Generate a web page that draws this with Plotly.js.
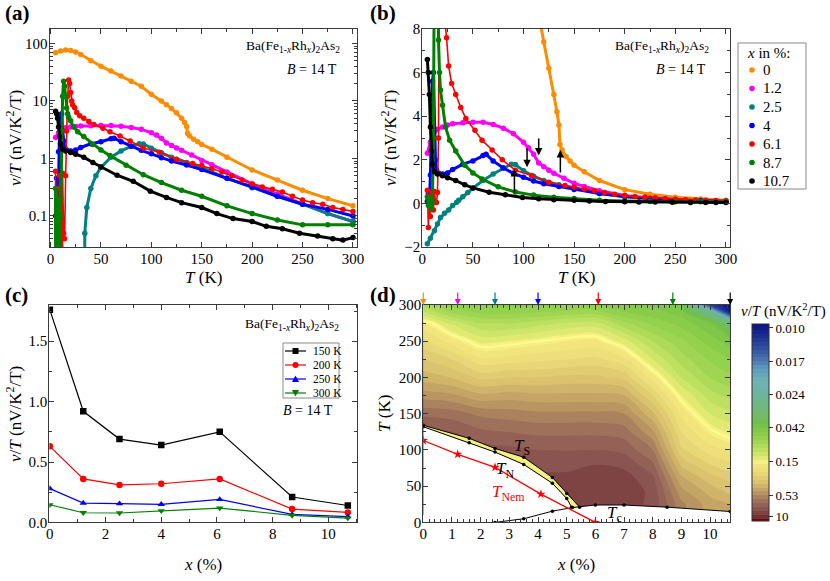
<!DOCTYPE html>
<html><head><meta charset="utf-8">
<script src="https://cdn.plot.ly/plotly-3.0.1.min.js"></script>
<style>html,body{margin:0;padding:0;background:#fff}#chart{width:830px;height:581px}</style>
</head><body><div id="chart"></div>
<script>
// ---------- Panel (a)/(b): nu/T vs T for each composition ----------
const seriesNames = ['0', '1.2', '2.5', '4', '6.1', '8.7', '10.7'];
const seriesColors = ['#ff8c00', '#ff00ff', '#008080', '#0000ff', '#ff0000', '#008000', '#000000'];

const T_x0 = [5, 10, 15, 20, 25, 30, 40, 50, 60, 70, 80, 90, 100, 110, 115, 120, 125, 130, 133, 135, 136, 138, 142, 146, 150, 160, 175, 200, 225, 250, 275, 300];
const V_x0 = [69, 74, 77, 75, 71, 64, 50, 40, 33, 27, 22, 18, 13, 10, 8.6, 7.4, 6.2, 5.0, 4.2, 3.6, 2.7, 2.45, 2.15, 1.95, 1.75, 1.45, 1.05, 0.63, 0.42, 0.28, 0.2, 0.15];

const T_x12 = [5, 8, 10, 12, 15, 20, 25, 30, 40, 50, 60, 70, 80, 90, 100, 105, 110, 115, 120, 125, 130, 140, 150, 160, 175, 200, 225, 250, 275, 300];
const V_x12 = [2.3, 2.8, 3.2, 3.3, 3.4, 3.5, 3.6, 3.65, 3.7, 3.72, 3.72, 3.62, 3.45, 3.2, 2.8, 2.55, 2.25, 1.85, 1.68, 1.52, 1.38, 1.15, 0.92, 0.78, 0.58, 0.36, 0.24, 0.16, 0.11, 0.08];

const T_x25 = [5, 8, 12, 15, 18, 22, 26, 30, 34, 36, 40, 45, 50, 60, 70, 80, 88, 92, 100, 110, 120, 135, 150, 175, 200, 225, 250, 275, 300];
const V_x25 = [-1.85, -1.6, -1.25, -0.95, -0.65, -0.45, -0.3, -0.1, 0.05, 0.14, 0.3, 0.5, 0.7, 1.05, 1.35, 1.62, 1.8, 1.78, 1.5, 1.25, 1.05, 0.85, 0.70, 0.45, 0.31, 0.22, 0.16, 0.11, 0.08];

const T_x4 = [5, 6, 7, 8, 9, 10, 11, 12, 13, 14, 16, 20, 25, 30, 40, 50, 60, 63, 70, 80, 90, 100, 110, 120, 135, 150, 175, 200, 225, 250, 275, 300];
const V_x4 = [0.1, 0.45, 0.05, 1.3, 3.5, 5.6, 6.0, 3.0, 2.0, 1.55, 1.4, 1.35, 1.4, 1.55, 1.8, 1.95, 2.2, 2.25, 1.95, 1.62, 1.38, 1.2, 1.03, 0.9, 0.77, 0.64, 0.45, 0.32, 0.22, 0.16, 0.13, 0.10];

const T_x61 = [5, 6, 7, 8, 9, 10, 11, 12, 13, 14, 15, 16, 17, 18, 19, 20, 21, 22, 24, 26, 29, 33, 38, 43, 52, 59, 69, 79, 92, 108, 125, 141, 150, 160, 170, 180, 190, 200, 210, 220, 230, 240, 250, 260, 270, 280, 290, 300];
const V_x61 = [0.6, -1.1, 0.3, -0.6, 0.5, 0.2, -0.3, 0.55, 0.05, 0.04, 0.5, 3, 12, 23, 20, 14, 10, 8.5, 7.6, 6.3, 5.5, 5.0, 4.4, 3.9, 3.35, 2.9, 2.45, 2.0, 1.52, 1.28, 0.97, 0.82, 0.75, 0.66, 0.58, 0.5, 0.42, 0.36, 0.32, 0.29, 0.26, 0.22, 0.19, 0.17, 0.16, 0.14, 0.13, 0.12];

const T_x87 = [5, 6, 7, 8, 9, 10, 11, 12, 13, 14, 15, 16, 17, 18, 20, 23, 27, 33, 42, 50, 59, 75, 92, 110, 130, 150, 175, 200, 225, 250, 275, 300];
const V_x87 = [0.3, -0.1, 0.04, 0.2, -0.25, 0.1, 3, 12, 22, 18, 12, 7.5, 6, 5.2, 4.5, 3.5, 2.9, 2.4, 1.75, 1.4, 1.12, 0.76, 0.52, 0.38, 0.28, 0.22, 0.15, 0.11, 0.085, 0.07, 0.07, 0.07];

const T_x107 = [5, 6, 7, 8, 9, 10, 12, 15, 20, 25, 33, 42, 50, 66, 82, 99, 115, 130, 150, 165, 181, 200, 214, 230, 247, 265, 280, 290, 300];
const V_x107 = [6.6, 6.0, 5.0, 3.5, 2.4, 1.8, 1.45, 1.35, 1.27, 1.18, 1.05, 0.85, 0.71, 0.51, 0.4, 0.27, 0.21, 0.17, 0.14, 0.11, 0.09, 0.08, 0.066, 0.06, 0.05, 0.045, 0.04, 0.038, 0.042];

const seriesT = [T_x0, T_x12, T_x25, T_x4, T_x61, T_x87, T_x107];
const seriesV = [V_x0, V_x12, V_x25, V_x4, V_x61, V_x87, V_x107];

// ---------- Panel (c): nu/T vs x at fixed T ----------
const cX = [0, 1.2, 2.5, 4, 6.1, 8.7, 10.7];
const c150 = [1.76, 0.92, 0.69, 0.64, 0.75, 0.21, 0.14];
const c200 = [0.63, 0.36, 0.31, 0.32, 0.36, 0.11, 0.083];
const c250 = [0.28, 0.16, 0.155, 0.15, 0.19, 0.066, 0.047];
const c300 = [0.146, 0.08, 0.078, 0.096, 0.119, 0.058, 0.036];
const cLabels = ['150 K', '200 K', '250 K', '300 K'];

// ---------- Panel (d): phase diagram + nu/T map ----------
const dX = [0, 1, 2, 3, 4, 5, 6, 7, 8, 9, 10, 10.7];
const dT = [10, 25, 40, 60, 80, 100, 125, 150, 175, 200, 225, 250, 275, 290, 300];
const dNuT = [
  [4.7, 4.7, 4.7, 4.7, 5.4, 6.2, 7.1, 6.2, 4.1, 0.64, 0.43, 0.40],
  [4.7, 4.7, 4.7, 4.7, 5.4, 6.2, 7.1, 6.2, 4.1, 0.64, 0.43, 0.40],
  [4.7, 4.7, 4.7, 4.7, 5.4, 6.2, 8.1, 7.1, 4.1, 0.50, 0.385, 0.34],
  [4.7, 4.7, 4.7, 4.7, 5.4, 5.4, 7.1, 6.2, 3.2, 0.415, 0.32, 0.283],
  [4.7, 4.7, 4.7, 4.7, 4.1, 4.1, 4.7, 4.1, 1.85, 0.33, 0.254, 0.227],
  [4.1, 4.1, 3.6, 3.2, 2.8, 2.7, 2.8, 2.4, 0.95, 0.262, 0.203, 0.181],
  [3.2, 2.8, 1.85, 1.6, 1.42, 1.42, 1.42, 1.25, 0.48, 0.218, 0.156, 0.134],
  [1.42, 1.25, 0.83, 0.73, 0.64, 0.64, 0.64, 0.56, 0.355, 0.181, 0.12, 0.108],
  [0.50, 0.48, 0.415, 0.43, 0.415, 0.415, 0.415, 0.40, 0.254, 0.139, 0.096, 0.086],
  [0.37, 0.34, 0.283, 0.295, 0.295, 0.307, 0.307, 0.283, 0.174, 0.104, 0.077, 0.069],
  [0.295, 0.254, 0.195, 0.203, 0.21, 0.218, 0.227, 0.195, 0.12, 0.083, 0.065, 0.058],
  [0.227, 0.174, 0.134, 0.139, 0.15, 0.162, 0.168, 0.129, 0.0895, 0.069, 0.054, 0.046],
  [0.168, 0.115, 0.090, 0.088, 0.096, 0.106, 0.11, 0.080, 0.064, 0.054, 0.043, 0.032],
  [0.105, 0.074, 0.064, 0.064, 0.066, 0.070, 0.072, 0.058, 0.052, 0.047, 0.0276, 0.010],
  [0.085, 0.062, 0.057, 0.056, 0.056, 0.058, 0.058, 0.052, 0.049, 0.044, 0.0128, 0.0094]
];
const cbTickVals = [10, 0.53, 0.15, 0.042, 0.024, 0.017, 0.010];
const cbTickText = ['10', '0.53', '0.15', '0.042', '0.024', '0.017', '0.010'];

const TS_x = [0, 1.6, 2.5, 3.5, 4.5, 5.0, 5.45];
const TS_T = [134, 116, 102, 90, 62, 40, 21];
const TN_x = [0, 1.6, 2.5, 3.5, 4.5, 5.0, 5.17];
const TN_T = [132, 110, 97, 80, 54, 33, 21];
const Tc_x = [2.5, 3.5, 4.5, 5.2, 6.0, 7.0, 8.5, 10.7];
const Tc_T = [0, 5, 15.5, 20.5, 24, 24, 21, 15];
const Tnem_x = [0, 1.2, 2.5, 4.1, 6.0];
const Tnem_T = [113, 94, 76, 39, 0];
const arrowX = [0, 1.2, 2.5, 4, 6.1, 8.7, 10.7];

// ---------- helpers ----------
const FONT = '"Liberation Serif", "Times New Roman", Times, "DejaVu Serif", serif';
const W = 830, H = 581;
const P = x => x / W;
const Q = y => 1 - y / H;
const cbPos = [0.022, 0.132, 0.30, 0.473, 0.642, 0.81, 0.98];
function level(v) {
  const L = Math.log10(v);
  const lv = cbTickVals.map(Math.log10);
  let i = 0;
  if (L >= lv[0]) i = 0;
  else if (L <= lv[lv.length - 1]) i = lv.length - 2;
  else { while (i < lv.length - 2 && L < lv[i + 1]) i++; }
  const f = cbPos[i] + (lv[i] - L) / (lv[i] - lv[i + 1]) * (cbPos[i + 1] - cbPos[i]);
  return Math.max(0, Math.min(1, f));
}
const dLevel = dNuT.map(r => r.map(level));

const traces = [];
// panel a
seriesNames.forEach((n, i) => {
  traces.push({type: 'scatter', mode: 'lines+markers', x: seriesT[i], y: seriesV[i], xaxis: 'x', yaxis: 'y',
    line: {color: seriesColors[i], width: i === 4 ? 1.6 : 3}, marker: {color: seriesColors[i], size: 5.5},
    showlegend: false, hoverinfo: 'skip'});
});
// panel b
seriesNames.forEach((n, i) => {
  traces.push({type: 'scatter', mode: 'lines+markers', x: seriesT[i], y: seriesV[i], xaxis: 'x2', yaxis: 'y2',
    line: {color: seriesColors[i], width: i === 4 ? 1.6 : 3}, marker: {color: seriesColors[i], size: 5.5},
    showlegend: false, hoverinfo: 'skip'});
});
// panel c
const cSeries = [c150, c200, c250, c300];
const cColors = ['#000000', '#ff0000', '#0000ff', '#008000'];
const cSymbols = ['square', 'circle', 'triangle-up', 'triangle-down'];
cSeries.forEach((s, i) => {
  traces.push({type: 'scatter', mode: 'lines+markers', x: cX, y: s, xaxis: 'x3', yaxis: 'y3',
    line: {color: cColors[i], width: 1.2}, marker: {color: cColors[i], size: 6.5, symbol: cSymbols[i]},
    showlegend: false, hoverinfo: 'skip'});
});
// panel d contour
const cscale = [
  [0, '#6a0a0a'], [0.02, '#763030'], [0.04, '#7e4444'], [0.06, '#8a5450'], [0.09, '#986858'], [0.12, '#aa825e'],
  [0.15, '#c09e64'], [0.20, '#dac26e'], [0.25, '#ecdc78'], [0.29, '#f4e87e'], [0.30, '#f6f084'], [0.32, '#e0ea72'],
  [0.35, '#c4e264'], [0.39, '#a6d856'], [0.43, '#8ece4a'], [0.49, '#70c046'], [0.557, '#72ba72'], [0.642, '#6cb49c'],
  [0.709, '#70b4b4'], [0.777, '#5898bc'], [0.81, '#4a7ab0'], [0.878, '#3050a0'], [0.946, '#1a2a90'], [1, '#0a1088']
];
traces.push({type: 'contour', x: dX, y: dT, z: dLevel, xaxis: 'x4', yaxis: 'y4',
  colorscale: cscale, zmin: 0, zmax: 1, autocontour: false,
  contours: {start: 0.01, end: 0.99, size: 0.02, coloring: 'fill', showlines: false},
  line: {width: 0}, hoverinfo: 'skip',
  colorbar: {x: P(751.7), xanchor: 'left', y: Q(422.5), yanchor: 'middle', len: 197 / H, lenmode: 'fraction',
    thickness: 17, thicknessmode: 'pixels', outlinewidth: 1, outlinecolor: '#333',
    tickvals: cbPos, ticktext: cbTickText, ticks: 'outside', ticklen: 4, tickcolor: '#333',
    tickfont: {family: FONT, size: 13, color: '#000'}, xpad: 0, ypad: 0}
});
// bright iso-line at nu/T = 0.15
traces.push({type: 'contour', x: dX, y: dT, z: dLevel, xaxis: 'x4', yaxis: 'y4', showscale: false,
  autocontour: false, contours: {start: level(0.15), end: level(0.15), size: 0.1, coloring: 'none', showlines: true},
  line: {color: '#fdfb8c', width: 2.2, smoothing: 1}, hoverinfo: 'skip'});
// white (ordered) region below T_N and T_c
const wx = [], wy = [];
TN_x.forEach((x, i) => { wx.push(x); wy.push(TN_T[i]); });
Tc_x.forEach((x, i) => { if (x > TN_x[TN_x.length - 1]) { wx.push(x); wy.push(Tc_T[i]); } });
wx.push(10.7, 0); wy.push(0, 0);
traces.push({type: 'scatter', mode: 'none', x: wx, y: wy, fill: 'toself', fillcolor: '#ffffff', xaxis: 'x4', yaxis: 'y4', showlegend: false, hoverinfo: 'skip'});
// yellow band between T_S and T_N
const yx = TS_x.concat(TN_x.slice().reverse());
const yy = TS_T.concat(TN_T.slice().reverse());
traces.push({type: 'scatter', mode: 'none', x: yx, y: yy, fill: 'toself', fillcolor: '#f4f07c', xaxis: 'x4', yaxis: 'y4', showlegend: false, hoverinfo: 'skip'});
[[TS_x, TS_T], [TN_x, TN_T], [Tc_x, Tc_T]].forEach(([xs, ts]) => {
  traces.push({type: 'scatter', mode: 'lines+markers', x: xs, y: ts, xaxis: 'x4', yaxis: 'y4',
    line: {color: '#000', width: 1}, marker: {color: '#000', size: 3.5}, showlegend: false, hoverinfo: 'skip'});
});
traces.push({type: 'scatter', mode: 'lines+markers', x: Tnem_x, y: Tnem_T, xaxis: 'x4', yaxis: 'y4',
  line: {color: '#ff0000', width: 1.3}, marker: {color: '#ff0000', size: 7, symbol: 'star'}, showlegend: false, hoverinfo: 'skip'});

// ---------- axes ----------
function ax(extra, minorD) {
  const m = {ticks: 'inside', ticklen: 3, tickwidth: 1, tickcolor: '#3a3a3a', showgrid: false};
  if (minorD !== undefined) m.dtick = minorD;
  return Object.assign({showline: true, linecolor: '#3a3a3a', linewidth: 1, mirror: 'allticks', ticks: 'inside',
    ticklen: 5, tickwidth: 1, tickcolor: '#3a3a3a', showgrid: false, zeroline: false, ticklabelstandoff: -2,
    tickfont: {family: FONT, size: 15, color: '#000'}, minor: m}, extra);
}
const yA = [Q(247), Q(29)], yC = [Q(522.4), Q(305)];
const layout = {
  width: W, height: H, margin: {l: 0, r: 0, t: 0, b: 0}, paper_bgcolor: '#fff', plot_bgcolor: '#fff',
  showlegend: false, font: {family: FONT, color: '#000'},
  xaxis: ax({domain: [P(49.5), P(357)], range: [-1, 304], dtick: 50, anchor: 'y'}, 25),
  yaxis: ax({domain: yA, type: 'log', range: [-1.54, 2.25], dtick: 1, anchor: 'x'}),
  xaxis2: ax({domain: [P(422.3), P(730)], range: [0, 304], dtick: 50, anchor: 'y2'}, 25),
  yaxis2: ax({domain: yA, range: [-2, 8], dtick: 2, anchor: 'x2'}, 1),
  xaxis3: ax({domain: [P(49.3), P(357.3)], range: [-0.02, 11.04], dtick: 2, anchor: 'y3'}, 1),
  yaxis3: ax({domain: yC, range: [0, 1.8], dtick: 0.5, tickformat: '.1f', anchor: 'x3'}, 0.25),
  xaxis4: ax({domain: [P(423.3), P(730.2)], range: [0, 10.7], dtick: 1, anchor: 'y4', layer: 'above traces'}),
  yaxis4: ax({domain: yC, range: [0, 300], dtick: 50, anchor: 'x4', layer: 'above traces'}, 25),
  annotations: [], shapes: []
};
const A = layout.annotations, S = layout.shapes;
function txt(x, y, text, size, opts) {
  A.push(Object.assign({xref: 'paper', yref: 'paper', x: P(x), y: Q(y), text: text, showarrow: false,
    font: {family: FONT, size: size, color: '#000'}, xanchor: 'center', yanchor: 'middle'}, opts || {}));
}
const formula = 'Ba(Fe<sub>1-<i>x</i></sub>Rh<sub><i>x</i></sub>)<sub>2</sub>As<sub>2</sub>';
const nuT = '<i>ν</i>/<i>T</i> (nV/K<sup>2</sup>/T)';
// panel labels
txt(3, 13, '<b>(a)</b>', 21, {xanchor: 'left'});
txt(368, 13, '<b>(b)</b>', 21, {xanchor: 'left'});
txt(3, 295, '<b>(c)</b>', 21, {xanchor: 'left'});
txt(368, 295, '<b>(d)</b>', 21, {xanchor: 'left'});
// axis titles
txt(14, 138, nuT, 17, {textangle: -90});
txt(389, 138, nuT, 17, {textangle: -90});
txt(14, 414, nuT, 17, {textangle: -90});
txt(384, 414, '<i>T</i> (K)', 17, {textangle: -90});
txt(203, 277, '<i>T</i> (K)', 17);
txt(576, 277, '<i>T</i> (K)', 17);
txt(203, 564, '<i>x</i> (%)', 17);
txt(576, 564, '<i>x</i> (%)', 17);
// in-panel texts
txt(342, 47, formula, 13.5, {xanchor: 'right'});
txt(339, 70, '<i>B</i> = 14 T', 14, {xanchor: 'right'});
txt(711, 47, formula, 13.5, {xanchor: 'right'});
txt(708, 70, '<i>B</i> = 14 T', 14, {xanchor: 'right'});
txt(341, 324, formula, 13.5, {xanchor: 'right'});
txt(308, 410, '<i>B</i> = 14 T', 14);
txt(783, 310, nuT, 15);
// panel d labels
function dtxt(x, y, text, color) {
  A.push({xref: 'x4', yref: 'y4', x: x, y: y, text: text, showarrow: false, font: {family: FONT, size: 17, color: color}});
}
dtxt(3.43, 104, '<i>T</i><sub>S</sub>', '#000');
dtxt(2.85, 72, '<i>T</i><sub>N</sub>', '#000');
dtxt(2.96, 41, '<i>T</i><sub>Nem</sub>', '#ff0000');
dtxt(6.68, 11, '<i>T</i><sub>c</sub>', '#000');
// top arrows in d
arrowX.forEach((x, i) => {
  A.push({xref: 'x4', yref: 'y4', x: x, y: 300, ax: 0, ay: -14, text: '', showarrow: true,
    arrowhead: 2, arrowsize: 1, arrowwidth: 1.2, arrowcolor: seriesColors[i], standoff: 0});
});
// arrows in b
[[103.5, 2.6, 1.66], [115, 3.05, 2.2], [136.4, 1.35, 2.45], [91, 0.43, 1.58]].forEach(([t, y0, y1]) => {
  A.push({xref: 'x2', yref: 'y2', axref: 'x2', ayref: 'y2', x: t, y: y1, ax: t, ay: y0, text: '', showarrow: true,
    arrowhead: 2, arrowsize: 1, arrowwidth: 1.5, arrowcolor: '#000', standoff: 0});
});
// legend (b)
S.push({type: 'rect', xref: 'paper', yref: 'paper', x0: P(738), x1: P(806), y0: Q(189), y1: Q(43), line: {color: '#888', width: 1}});
txt(745, 53, '<i>x</i> in %:', 15, {xanchor: 'left'});
const rowsB = [70, 88.5, 107, 125.5, 144, 162.5, 181];
seriesNames.forEach((n, i) => {
  const r = 2.8;
  S.push({type: 'circle', xref: 'paper', yref: 'paper', x0: P(752 - r), x1: P(752 + r), y0: Q(rowsB[i] + r), y1: Q(rowsB[i] - r),
    fillcolor: seriesColors[i], line: {width: 0}});
  txt(761, rowsB[i], n, 15, {xanchor: 'left'});
});
// legend (c)
S.push({type: 'rect', xref: 'paper', yref: 'paper', x0: P(283), x1: P(339), y0: Q(398), y1: Q(343), line: {color: '#888', width: 1}});
const rowsC = [351, 365, 379, 393];
cLabels.forEach((lab, i) => {
  const y = rowsC[i], c = cColors[i], cx = 295.5, s = 3;
  S.push({type: 'line', xref: 'paper', yref: 'paper', x0: P(285), x1: P(306), y0: Q(y), y1: Q(y), line: {color: c, width: 1.2}});
  if (i === 0) S.push({type: 'rect', xref: 'paper', yref: 'paper', x0: P(cx - s), x1: P(cx + s), y0: Q(y + s), y1: Q(y - s), fillcolor: c, line: {width: 0}});
  if (i === 1) S.push({type: 'circle', xref: 'paper', yref: 'paper', x0: P(cx - s), x1: P(cx + s), y0: Q(y + s), y1: Q(y - s), fillcolor: c, line: {width: 0}});
  if (i === 2) S.push({type: 'path', xref: 'paper', yref: 'paper', path: `M ${P(cx - 3.6)} ${Q(y + 3)} L ${P(cx + 3.6)} ${Q(y + 3)} L ${P(cx)} ${Q(y - 3.6)} Z`, fillcolor: c, line: {width: 0}});
  if (i === 3) S.push({type: 'path', xref: 'paper', yref: 'paper', path: `M ${P(cx - 3.6)} ${Q(y - 3)} L ${P(cx + 3.6)} ${Q(y - 3)} L ${P(cx)} ${Q(y + 3.6)} Z`, fillcolor: c, line: {width: 0}});
  txt(311, y, lab, 11.5, {xanchor: 'left'});
});

Plotly.newPlot('chart', traces, layout, {staticPlot: true, displayModeBar: false});
</script></body></html>
